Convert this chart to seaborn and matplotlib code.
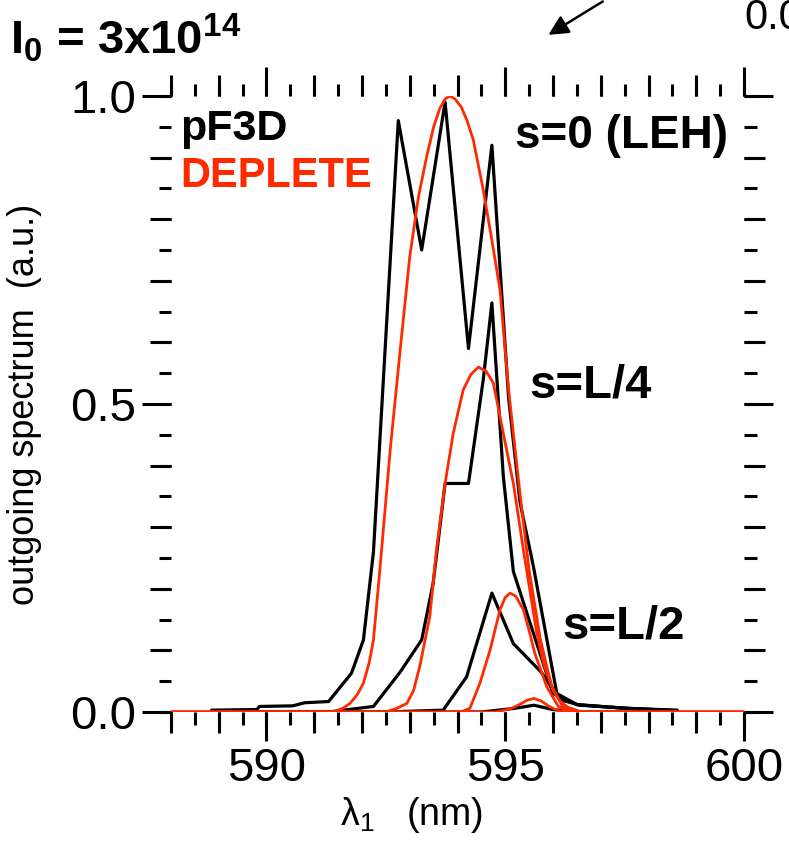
import matplotlib
matplotlib.use("Agg")
import matplotlib.pyplot as plt
import numpy as np
import pandas as pd
import seaborn as sns
from matplotlib.ticker import FixedLocator, MultipleLocator, FormatStrFormatter

# ---------------- data ----------------
# pF3D (black), s = 0 (LEH)
pf3d_s0_lam = [588.85, 589.8, 589.85, 590.55, 590.8, 591.3, 591.78, 592.03, 592.24, 592.76,
               593.25, 593.74, 594.23, 594.72, 595.07, 595.31, 595.59, 596.08, 596.5, 597.5, 598.6]
pf3d_s0_val = [0.003, 0.004, 0.009, 0.010, 0.015, 0.017, 0.063, 0.117, 0.26, 0.96,
               0.75, 0.99, 0.59, 0.92, 0.51, 0.34, 0.236, 0.03, 0.012, 0.006, 0.003]
# pF3D, s = L/4
pf3d_s4_lam = [588.85, 591.3, 592.24, 592.8, 593.25, 593.49, 593.74, 594.23, 594.54, 594.72,
               594.96, 595.17, 596.0, 596.5, 597.5, 598.6]
pf3d_s4_val = [0.0, 0.0, 0.009, 0.065, 0.117, 0.209, 0.371, 0.371, 0.54, 0.664,
               0.382, 0.228, 0.03, 0.012, 0.006, 0.002]
# pF3D, s = L/2
pf3d_s2_lam = [588.85, 592.5, 593.7, 594.19, 594.72, 595.17, 595.75, 596.15, 596.56, 597.6, 598.6]
pf3d_s2_val = [0.0, 0.0, 0.003, 0.057, 0.193, 0.111, 0.065, 0.02, 0.011, 0.006, 0.002]
# pF3D, s = 3L/4 (unlabelled small bump)
pf3d_s34_lam = [588.85, 594.5, 595.2, 595.6, 596.0, 596.5, 598.6]
pf3d_s34_val = [0.0, 0.0, 0.006, 0.011, 0.004, 0.0, 0.0]

# DEPLETE (red), s = 0
dep_s0_lam = [588.0, 591.4, 591.6, 591.75, 591.9, 592.03, 592.15, 592.24, 592.38, 592.59,
              592.8, 593.0, 593.18, 593.35, 593.5, 593.63, 593.74, 593.84, 593.95, 594.08,
              594.2, 594.33, 594.54, 594.72, 594.89, 595.07, 595.3, 595.5, 595.73, 595.88,
              596.0, 596.15, 596.3, 596.6, 600.0]
dep_s0_val = [0.0, 0.0, 0.006, 0.014, 0.028, 0.047, 0.08, 0.117, 0.236, 0.425,
              0.588, 0.739, 0.835, 0.90, 0.95, 0.98, 0.995, 1.0, 0.995, 0.982,
              0.96, 0.929, 0.847, 0.766, 0.685, 0.523, 0.36, 0.23, 0.12, 0.07,
              0.035, 0.018, 0.008, 0.0, 0.0]
# DEPLETE, s = L/4
dep_s4_lam = [588.0, 592.5, 592.73, 592.94, 593.08, 593.21, 593.42, 593.56, 593.74, 593.91,
              594.12, 594.28, 594.44, 594.6, 594.75, 594.96, 595.17, 595.38, 595.66, 595.8,
              595.94, 596.2, 596.5, 600.0]
dep_s4_val = [0.0, 0.0, 0.006, 0.014, 0.035, 0.074, 0.155, 0.263, 0.371, 0.452,
              0.523, 0.548, 0.56, 0.553, 0.534, 0.452, 0.371, 0.263, 0.128, 0.08,
              0.047, 0.009, 0.0, 0.0]
# DEPLETE, s = L/2
dep_s2_lam = [588.0, 593.8, 594.1, 594.26, 594.47, 594.68, 594.89, 595.0, 595.1, 595.22,
              595.38, 595.5, 595.62, 595.87, 596.11, 596.4, 600.0]
dep_s2_val = [0.0, 0.0, 0.001, 0.006, 0.047, 0.10, 0.166, 0.186, 0.193, 0.188,
              0.166, 0.132, 0.095, 0.041, 0.009, 0.0, 0.0]
# DEPLETE, s = 3L/4
dep_s34_lam = [588.0, 594.8, 595.1, 595.3, 595.45, 595.6, 595.75, 595.9, 596.1, 596.4, 600.0]
dep_s34_val = [0.0, 0.0, 0.005, 0.012, 0.019, 0.022, 0.018, 0.01, 0.002, 0.0, 0.0]

x_ticks = [590, 595, 600]
y_ticks = [0.0, 0.5, 1.0]

# ---------------- style ----------------
sns.set_theme(style="white")
plt.rcParams["font.family"] = ["Liberation Sans", "DejaVu Sans"]
plt.rcParams["text.color"] = "black"
plt.rcParams["axes.labelcolor"] = "black"
plt.rcParams["xtick.color"] = "black"
plt.rcParams["ytick.color"] = "black"
plt.rcParams["mathtext.fontset"] = "custom"
plt.rcParams["mathtext.rm"] = "Liberation Sans"
plt.rcParams["mathtext.it"] = "Liberation Sans"
plt.rcParams["mathtext.bf"] = "Liberation Sans:bold"
plt.rcParams["mathtext.default"] = "regular"

BLACK = "#000000"
RED = "#ff2a00"

fig = plt.figure(figsize=(7.89, 8.44), dpi=100)
ax = fig.add_axes([0.2167, 0.1564, 0.7263, 0.7299])

black_sets = [(pf3d_s0_lam, pf3d_s0_val), (pf3d_s4_lam, pf3d_s4_val),
              (pf3d_s2_lam, pf3d_s2_val), (pf3d_s34_lam, pf3d_s34_val)]
red_sets = [(dep_s0_lam, dep_s0_val), (dep_s4_lam, dep_s4_val),
            (dep_s2_lam, dep_s2_val), (dep_s34_lam, dep_s34_val)]

for lam, val in black_sets:
    df = pd.DataFrame({"lam": lam, "val": val})
    sns.lineplot(data=df, x="lam", y="val", ax=ax, color=BLACK, lw=2.3,
                 sort=False, estimator=None, zorder=3)
for lam, val in red_sets:
    df = pd.DataFrame({"lam": lam, "val": val})
    sns.lineplot(data=df, x="lam", y="val", ax=ax, color=RED, lw=2.0,
                 sort=False, estimator=None, zorder=4)

ax.set_xlim(588, 600)
ax.set_ylim(0, 1.0)
for s in ax.spines.values():
    s.set_visible(False)

LONG, MED, SHORT, TW = 21, 15, 9, 2.2
ax.xaxis.set_major_locator(FixedLocator(x_ticks))
ax.xaxis.set_minor_locator(MultipleLocator(1))
ax.yaxis.set_major_locator(FixedLocator(y_ticks))
ax.yaxis.set_minor_locator(MultipleLocator(0.1))
ax.yaxis.set_major_formatter(FormatStrFormatter("%.1f"))
ax.tick_params(which="major", direction="out", length=LONG, width=TW, color=BLACK,
               labelcolor=BLACK, top=True, right=True, bottom=True, left=True,
               labeltop=False, labelright=False, labelsize=34, pad=4)
ax.tick_params(which="minor", direction="out", length=MED, width=TW, color=BLACK,
               top=True, right=True, bottom=True, left=True)

for loc in ["bottom", "top"]:
    sec = ax.secondary_xaxis(loc)
    sec.xaxis.set_major_locator(MultipleLocator(0.5))
    sec.tick_params(direction="out", length=SHORT, width=TW, color=BLACK,
                    labelbottom=False, labeltop=False)
    for s in sec.spines.values():
        s.set_visible(False)
for loc in ["left", "right"]:
    sec = ax.secondary_yaxis(loc)
    sec.yaxis.set_major_locator(MultipleLocator(0.05))
    sec.tick_params(direction="out", length=SHORT, width=TW, color=BLACK,
                    labelleft=False, labelright=False)
    for s in sec.spines.values():
        s.set_visible(False)

ax.set_xlabel(r"$\lambda_1$   (nm)", fontsize=27, color=BLACK)
ax.xaxis.set_label_coords(0.42, -0.135)
ax.set_ylabel("outgoing spectrum  (a.u.)", fontsize=26, color=BLACK)
ax.yaxis.set_label_coords(-0.225, 0.5)

bold = dict(fontweight="bold", family=["Liberation Sans", "DejaVu Sans"])
ax.text(588.2, 0.929, "pF3D", color=BLACK, fontsize=31, va="baseline", ha="left", **bold)
ax.text(588.2, 0.852, "DEPLETE", color=RED, fontsize=30, va="baseline", ha="left", **bold)
ax.text(595.2, 0.916, "s=0 (LEH)", color=BLACK, fontsize=33, va="baseline", ha="left", **bold)
ax.text(595.5, 0.51, "s=L/4", color=BLACK, fontsize=34, va="baseline", ha="left", **bold)
ax.text(596.2, 0.12, "s=L/2", color=BLACK, fontsize=34, va="baseline", ha="left", **bold)

fig.text(0.013, 0.936, r"$\mathbf{I_0}$ = 3x10$^{\mathbf{14}}$", fontsize=34,
         va="baseline", ha="left", color=BLACK, **bold)
fig.text(0.944, 0.966, "0.0", fontsize=30, va="baseline", ha="left", color=BLACK)
fig.add_artist(matplotlib.patches.FancyArrowPatch(
    (0.767, 1.0), (0.692, 0.957), transform=fig.transFigure,
    arrowstyle="-|>", mutation_scale=30, lw=1.8, color=BLACK))

fig.savefig("out.png", dpi=100)
